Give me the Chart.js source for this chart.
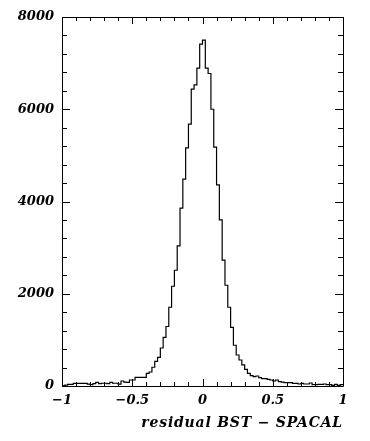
<!DOCTYPE html>
<html>
<head>
<meta charset="utf-8">
<script src="https://cdn.jsdelivr.net/npm/chart.js@4/dist/chart.umd.min.js"></script>
<style>
  html, body { margin: 0; padding: 0; background: #fff; }
  #wrap { width: 370px; height: 441px; }
</style>
</head>
<body>
<div id="wrap"><canvas id="c" width="370" height="441"></canvas></div>
<script>
// ---- data ----
const binStart = -1.0;
const binWidth = 0.02;
const counts = [
  10, 20, 35, 35, 55, 55, 55, 55, 55, 40,
  30, 50, 80, 50, 60, 60, 50, 80, 60, 60,
  40, 108, 86, 80, 130, 130, 189, 189, 189, 189,
  275, 304, 406, 536, 622, 824, 1056, 1290, 1707, 2163,
  2510, 3037, 3855, 4484, 5163, 5677, 6436, 6529, 6892, 7412,
  7499, 6892, 6775, 6000, 5178, 4360, 3601, 2727, 2184, 1707,
  1273, 883, 672, 564, 456, 362, 275, 224, 202, 217,
  181, 159, 159, 145, 130, 108, 130, 94, 86, 72,
  72, 72, 58, 58, 43, 58, 43, 43, 65, 29,
  29, 36, 36, 43, 29, 29, 14, 36, 14, 29
];
const xMajorLabels = [-1, -0.5, 0, 0.5, 1];
const yMajorLabels = [0, 2000, 4000, 6000, 8000];
const xTitle = 'residual BST \u2212 SPACAL';

// histogram points at the left edge of each bin, plus the closing right edge
const points = counts.map((c, i) => ({ x: binStart + i * binWidth, y: c }));
points.push({ x: binStart + counts.length * binWidth, y: counts[counts.length - 1] });

const fmt = v => (v < 0 ? '\u2212' + String(Math.abs(v)) : String(v));
const isMajorX = v => xMajorLabels.some(m => Math.abs(m - v) < 1e-6);
const isMajorY = v => yMajorLabels.some(m => Math.abs(m - v) < 1e-6);

const frame = {
  id: 'frame',
  beforeDraw(chart) {
    const ctx = chart.ctx;
    ctx.save();
    ctx.fillStyle = '#fff';
    ctx.fillRect(0, 0, chart.width, chart.height);
    ctx.restore();
  },
  afterDraw(chart) {
    const { ctx, chartArea: a, scales } = chart;
    ctx.save();
    ctx.strokeStyle = '#000';
    ctx.lineWidth = 1;
    ctx.beginPath();
    ctx.rect(Math.round(a.left) + 0.5, Math.round(a.top) + 0.5,
             Math.round(a.right - a.left), Math.round(a.bottom - a.top));
    ctx.stroke();
    ctx.beginPath();
    scales.x.ticks.forEach(t => {
      const px = Math.round(scales.x.getPixelForValue(t.value)) + 0.5;
      const len = isMajorX(t.value) ? 7 : 4;
      ctx.moveTo(px, a.bottom); ctx.lineTo(px, a.bottom - len);
      ctx.moveTo(px, a.top); ctx.lineTo(px, a.top + len);
    });
    scales.y.ticks.forEach(t => {
      const py = Math.round(scales.y.getPixelForValue(t.value)) + 0.5;
      const len = isMajorY(t.value) ? 8 : 5;
      ctx.moveTo(a.left, py); ctx.lineTo(a.left + len, py);
      ctx.moveTo(a.right, py); ctx.lineTo(a.right - len, py);
    });
    ctx.stroke();
    // x-axis title, right-aligned to the frame, slightly letter-spaced
    ctx.fillStyle = '#000';
    ctx.font = "italic bold 14px 'DejaVu Serif'";
    ctx.textAlign = 'right';
    ctx.textBaseline = 'middle';
    if ('letterSpacing' in ctx) ctx.letterSpacing = '0.8px';
    ctx.fillText(xTitle, a.right, 423);
    ctx.restore();
  }
};

const labelFont = { family: "'DejaVu Serif'", size: 13, style: 'italic', weight: 'bold' };

new Chart(document.getElementById('c'), {
  type: 'line',
  data: {
    datasets: [{
      data: points,
      stepped: 'before',
      borderColor: '#000',
      borderWidth: 1.2,
      pointRadius: 0,
      fill: false,
      tension: 0
    }]
  },
  options: {
    responsive: false,
    animation: false,
    devicePixelRatio: 1,
    layout: { padding: { left: 0, right: 27, top: 17, bottom: 0 } },
    plugins: { legend: { display: false }, tooltip: { enabled: false } },
    scales: {
      x: {
        type: 'linear',
        min: -1, max: 1,
        grid: { display: false, drawTicks: false },
        border: { display: false },
        ticks: {
          stepSize: 0.1,
          autoSkip: false,
          maxRotation: 0,
          padding: 7,
          color: '#000',
          font: labelFont,
          callback: v => (isMajorX(v) ? fmt(Math.round(v * 2) / 2) : '')
        },
        afterFit: s => { s.height = 55; }
      },
      y: {
        type: 'linear',
        min: 0, max: 8000,
        grid: { display: false, drawTicks: false },
        border: { display: false },
        ticks: {
          stepSize: 400,
          autoSkip: false,
          padding: 8,
          color: '#000',
          font: labelFont,
          callback: v => (isMajorY(v) ? String(Math.round(v)) : '')
        },
        afterFit: s => { s.width = 62; }
      }
    }
  },
  plugins: [frame]
});
</script>
</body>
</html>
